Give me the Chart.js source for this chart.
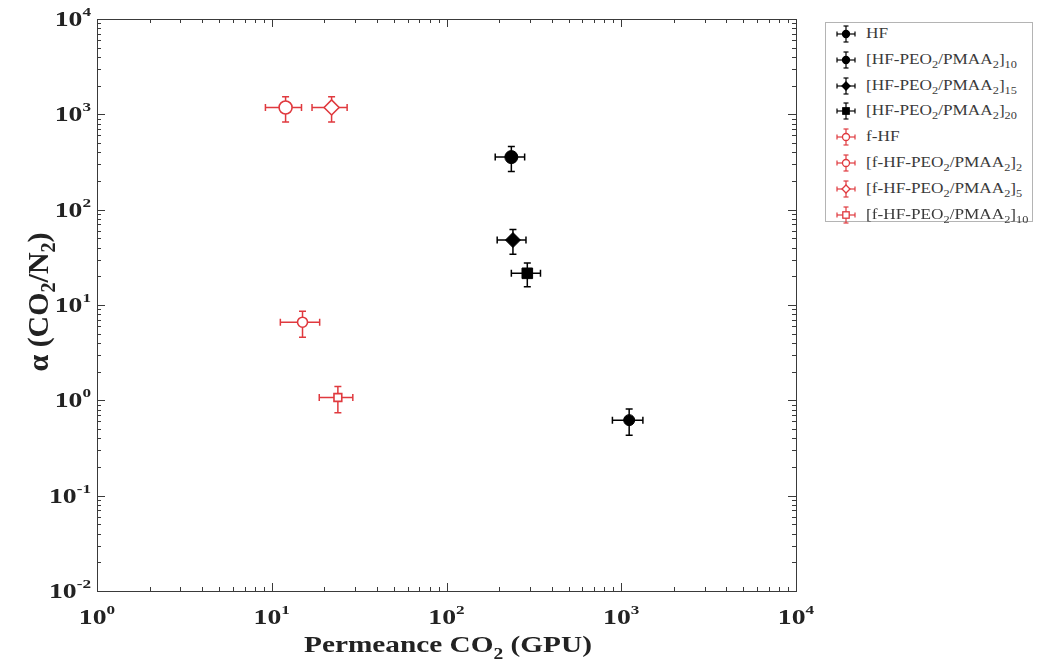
<!DOCTYPE html>
<html><head><meta charset="utf-8">
<script src="https://cdn.jsdelivr.net/npm/chart.js@4.4.0/dist/chart.umd.min.js"></script>
<style>
html,body{margin:0;padding:0;background:#fff;}
#wrap{position:relative;width:1037px;height:668px;overflow:hidden;}
canvas{position:absolute;left:0;top:0;}
#legend{position:absolute;left:825px;top:22px;width:208px;height:200px;border:1px solid #b4b4b4;box-sizing:border-box;font-family:'Liberation Serif','Times New Roman',serif;font-size:14px;color:#3a3a3a;background:#fff;}
.row{position:absolute;left:0;height:20px;display:flex;align-items:center;white-space:nowrap;}
.row svg{margin-left:9px;margin-right:9px;flex:none;}
.row span{display:inline-block;transform:scaleX(1.23);transform-origin:0 50%;}
sub{font-size:10px;vertical-align:-4px;line-height:0;}
</style></head><body>
<div id="wrap"><canvas id="c" width="1037" height="668"></canvas><div id="legend"></div></div>
<script>
// ---- data ----
const seriesLabels = ['HF','[HF-PEO<sub>2</sub>/PMAA<sub>2</sub>]<sub>10</sub>','[HF-PEO<sub>2</sub>/PMAA<sub>2</sub>]<sub>15</sub>','[HF-PEO<sub>2</sub>/PMAA<sub>2</sub>]<sub>20</sub>','f-HF','[f-HF-PEO<sub>2</sub>/PMAA<sub>2</sub>]<sub>2</sub>','[f-HF-PEO<sub>2</sub>/PMAA<sub>2</sub>]<sub>5</sub>','[f-HF-PEO<sub>2</sub>/PMAA<sub>2</sub>]<sub>10</sub>'];
const permeance    = [1110, 235, 240, 290, 15.0, 12.0, 22.0, 23.9];
const selectivity  = [0.62, 356, 48, 21.5, 6.6, 1180, 1180, 1.07];
const permeanceErr = [220, 45, 45, 55, 3.8, 2.8, 5, 5.2];
const selectErr    = [0.19, 105, 14, 6, 2, 350, 350, 0.33];
const markerShapes = ['circle','circle','rectRot','rect','circle','circle','rectRot','rect'];
const markerSizes  = [5.5, 6.5, 7.5, 7.5, 5, 6.5, 7.5, 5.5];
const seriesColors = ['#000','#000','#000','#000','#e0393e','#e0393e','#e0393e','#e0393e'];
const markerFilled = [true,true,true,true,false,false,false,false];
const xTickValues = [1,10,100,1000,10000];
const xTickExps   = ['0','1','2','3','4'];
const yTickValues = [0.01,0.1,1,10,100,1000,10000];
const yTickExps   = ['-2','-1','0','1','2','3','4'];
const xTitleParts = [['Permeance CO',0],['2',1],[' (GPU)',0]];
const yTitleParts = [['\u03b1 (CO',0],['2',1],['/N',0],['2',1],[')',0]];

const FONT = "'Liberation Serif','Times New Roman',serif";

const datasets = seriesLabels.map((lab,i)=>({
  label: lab,
  data: [{x: permeance[i], y: selectivity[i]}],
  errX: [permeanceErr[i]],
  errY: [selectErr[i]],
  pointStyle: markerShapes[i],
  pointRadius: markerSizes[i],
  pointHoverRadius: markerSizes[i],
  borderColor: seriesColors[i],
  backgroundColor: markerFilled[i] ? seriesColors[i] : '#fff',
  pointBorderWidth: markerFilled[i] ? 1 : 1.6,
  showLine: false
}));

const errorBars = {
  id:'errorBars',
  beforeDatasetsDraw(chart){
    const ctx = chart.ctx, xs = chart.scales.x, ys = chart.scales.y;
    chart.data.datasets.forEach(ds=>{
      ds.data.forEach((p,j)=>{
        const ex = ds.errX[j], ey = ds.errY[j];
        const px = xs.getPixelForValue(p.x), py = ys.getPixelForValue(p.y);
        const x1 = xs.getPixelForValue(p.x-ex), x2 = xs.getPixelForValue(p.x+ex);
        const y1 = ys.getPixelForValue(p.y+ey), y2 = ys.getPixelForValue(Math.max(p.y-ey,1e-6));
        ctx.save();
        ctx.strokeStyle = ds.borderColor; ctx.lineWidth = 1.5;
        ctx.beginPath();
        ctx.moveTo(x1,py); ctx.lineTo(x2,py);
        ctx.moveTo(x1,py-3.5); ctx.lineTo(x1,py+3.5);
        ctx.moveTo(x2,py-3.5); ctx.lineTo(x2,py+3.5);
        ctx.moveTo(px,y1); ctx.lineTo(px,y2);
        ctx.moveTo(px-3.5,y1); ctx.lineTo(px+3.5,y1);
        ctx.moveTo(px-3.5,y2); ctx.lineTo(px+3.5,y2);
        ctx.stroke();
        ctx.restore();
      });
    });
  }
};

function richWidth(ctx, parts, size, subSize, weight){
  let w=0;
  parts.forEach(([t,s])=>{ctx.font=`${weight} ${s?subSize:size}px ${FONT}`; w+=ctx.measureText(t).width;});
  return w;
}
function drawRich(ctx, parts, x, y, size, subSize, weight, align, subOff, sx){
  sx = sx || 1;
  const w = richWidth(ctx, parts, size, subSize, weight);
  ctx.save();
  ctx.translate(x, y); ctx.scale(sx, 1);
  let cx = align==='center' ? -w/2 : (align==='right' ? -w : 0);
  ctx.textAlign='left'; ctx.textBaseline='alphabetic';
  parts.forEach(([t,s])=>{
    ctx.font=`${weight} ${s?subSize:size}px ${FONT}`;
    ctx.fillText(t, cx, (s===1?subOff:(s===-1?-subOff:0)));
    cx += ctx.measureText(t).width;
  });
  ctx.restore();
}

const axesDeco = {
  id:'axesDeco',
  afterDatasetsDraw(chart){
    const ctx = chart.ctx, a = chart.chartArea, xs = chart.scales.x, ys = chart.scales.y;
    ctx.save();
    ctx.strokeStyle = '#3a3a3a'; ctx.lineWidth = 1;
    ctx.beginPath();
    for(let d=0; d<=4; d++){
      for(let k=1;k<=9;k++){
        const v = k*Math.pow(10,d); if(v>10000) break;
        const px = Math.round(xs.getPixelForValue(v))+0.5;
        const L = k===1?8:4;
        ctx.moveTo(px,a.bottom); ctx.lineTo(px,a.bottom-L);
        ctx.moveTo(px,a.top); ctx.lineTo(px,a.top+L);
      }
    }
    for(let d=-2; d<=4; d++){
      for(let k=1;k<=9;k++){
        const v = k*Math.pow(10,d); if(v>10000) break;
        const py = Math.round(ys.getPixelForValue(v))+0.5;
        const L = k===1?8:4;
        ctx.moveTo(a.left,py); ctx.lineTo(a.left+L,py);
        ctx.moveTo(a.right,py); ctx.lineTo(a.right-L,py);
      }
    }
    ctx.stroke();
    ctx.strokeRect(Math.round(a.left)+0.5, Math.round(a.top)+0.5, Math.round(a.right-a.left), Math.round(a.bottom-a.top));
    ctx.fillStyle = '#222';
    xTickValues.forEach((v,i)=>{
      const px = xs.getPixelForValue(v);
      drawRich(ctx, [['10',0],[xTickExps[i],-1]], px, 624, 21, 13, 'bold', 'center', 10, 1.32);
    });
    yTickValues.forEach((v,i)=>{
      const py = ys.getPixelForValue(v);
      drawRich(ctx, [['10',0],[yTickExps[i],-1]], 91, py+7, 21, 13, 'bold', 'right', 10, 1.32);
    });
    drawRich(ctx, xTitleParts, 448, 652, 24, 16, 'bold', 'center', 7, 1.22);
    ctx.save();
    ctx.translate(48, 302); ctx.rotate(-Math.PI/2);
    drawRich(ctx, yTitleParts, 0, 0, 30, 20, 'bold', 'center', 7, 1);
    ctx.restore();
    ctx.restore();
  }
};

new Chart(document.getElementById('c'), {
  type:'scatter',
  data:{datasets},
  options:{
    responsive:false, animation:false,
    layout:{padding:{left:97, top:19, right:241, bottom:77}},
    plugins:{legend:{display:false}, tooltip:{enabled:false}},
    scales:{
      x:{type:'logarithmic', min:1, max:10000, display:false},
      y:{type:'logarithmic', min:0.01, max:10000, display:false}
    }
  },
  plugins:[errorBars, axesDeco]
});

const leg = document.getElementById('legend');
seriesLabels.forEach((lab,i)=>{
  const row = document.createElement('div');
  row.className='row';
  row.style.top = (1 + i*25.8) + 'px';
  const c = seriesColors[i], f = markerFilled[i] ? c : '#fff';
  let m;
  if(markerShapes[i]==='circle') m = `<circle cx="11" cy="10" r="3.5" fill="${f}" stroke="${c}" stroke-width="1.3"/>`;
  else if(markerShapes[i]==='rectRot') m = `<polygon points="11,6 15,10 11,14 7,10" fill="${f}" stroke="${c}" stroke-width="1.3"/>`;
  else m = `<rect x="7.8" y="6.8" width="6.4" height="6.4" fill="${f}" stroke="${c}" stroke-width="1.3"/>`;
  row.innerHTML = `<svg width="22" height="20"><g stroke="${c}" stroke-width="1.2"><line x1="2" y1="10" x2="20" y2="10"/><line x1="2" y1="7.5" x2="2" y2="12.5"/><line x1="20" y1="7.5" x2="20" y2="12.5"/><line x1="11" y1="2" x2="11" y2="18"/><line x1="8.5" y1="2" x2="13.5" y2="2"/><line x1="8.5" y1="18" x2="13.5" y2="18"/></g>${m}</svg><span>${lab}</span>`;
  leg.appendChild(row);
});
</script>
</body></html>
